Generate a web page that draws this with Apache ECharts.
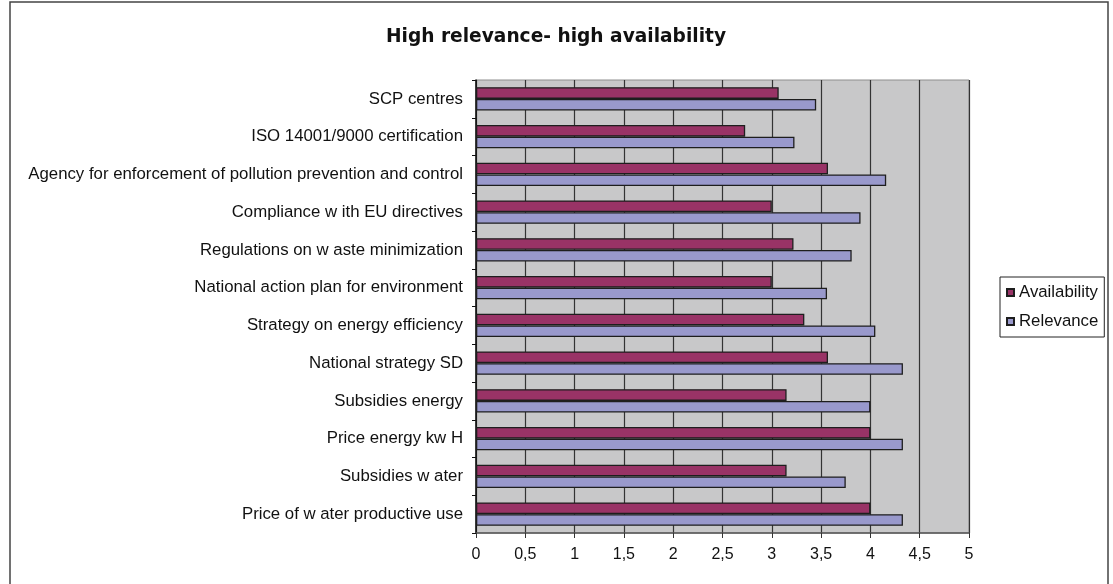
<!DOCTYPE html>
<html>
<head>
<meta charset="utf-8">
<script src="https://cdn.jsdelivr.net/npm/echarts@6/dist/echarts.min.js"></script>
<style>
  html, body { margin: 0; padding: 0; background: #fff; }
  #chart { width: 1113px; height: 584px; }
</style>
</head>
<body>
<div id="chart"></div>
<script>
// Categories listed top to bottom
const categories = [
  'SCP centres',
  'ISO 14001/9000 certification',
  'Agency for enforcement of pollution prevention and control',
  'Compliance w ith EU directives',
  'Regulations on w aste minimization',
  'National action plan for environment',
  'Strategy on energy efficiency',
  'National strategy SD',
  'Subsidies energy',
  'Price energy kw H',
  'Subsidies w ater',
  'Price of w ater productive use'
];
const availability = [3.07, 2.73, 3.57, 3.0, 3.22, 3.0, 3.33, 3.57, 3.15, 4.0, 3.15, 4.0];
const relevance    = [3.45, 3.23, 4.16, 3.9, 3.81, 3.56, 4.05, 4.33, 4.0, 4.33, 3.75, 4.33];

const FONT = '"Liberation Sans", Arial, sans-serif';

const chart = echarts.init(document.getElementById('chart'), null, { renderer: 'canvas' });
chart.setOption({
  animation: false,
  backgroundColor: '#ffffff',
  title: {
    text: 'High relevance- high availability',
    left: 386,
    top: 28,
    padding: 0,
    textStyle: { fontFamily: '"DejaVu Sans", sans-serif', fontWeight: 'bold', fontSize: 18.6, color: '#111' }
  },
  legend: {
    orient: 'vertical',
    left: 1000,
    top: 277,
    padding: [7, 6, 7, 6],
    itemGap: 12,
    itemWidth: 7,
    itemHeight: 7,
    icon: 'rect',
    borderColor: '#222',
    borderWidth: 1,
    textStyle: { fontFamily: FONT, fontSize: 16.8, color: '#111' },
    data: ['Availability', 'Relevance']
  },
  grid: {
    left: 476, top: 80, width: 493, height: 453,
    show: true,
    backgroundColor: '#c8c8c9',
    borderColor: '#8e8e8e',
    borderWidth: 1
  },
  xAxis: {
    type: 'value',
    min: 0, max: 5, interval: 0.5,
    axisLine: { show: true, lineStyle: { color: '#555', width: 1.5 } },
    axisTick: { show: true, length: 5, lineStyle: { color: '#333' } },
    axisLabel: {
      margin: 14,
      fontFamily: FONT, fontSize: 16, color: '#111',
      formatter: v => String(v).replace('.', ',')
    },
    splitLine: { show: true, lineStyle: { color: '#333', width: 1.2 } }
  },
  yAxis: {
    type: 'category',
    inverse: true,
    data: categories,
    axisLine: { show: true, lineStyle: { color: '#111', width: 1.5 } },
    axisTick: { show: true, length: 4, lineStyle: { color: '#111' } },
    axisLabel: { margin: 13, fontFamily: FONT, fontSize: 16.8, color: '#111' },
    splitLine: { show: false }
  },
  series: [
    {
      name: 'Availability',
      type: 'bar',
      data: availability,
      barGap: '0%',
      barCategoryGap: '38%',
      itemStyle: { color: '#993366', borderColor: '#1e1e1e', borderWidth: 1.3 }
    },
    {
      name: 'Relevance',
      type: 'bar',
      data: relevance,
      barGap: '0%',
      barCategoryGap: '38%',
      itemStyle: { color: '#9999cc', borderColor: '#1e1e1e', borderWidth: 1.3 }
    }
  ],
  graphic: [
    {
      type: 'rect',
      silent: true,
      shape: { x: 10, y: 2, width: 1098, height: 600 },
      style: { fill: 'none', stroke: '#444', lineWidth: 1.5 }
    }
  ]
});
</script>
</body>
</html>
